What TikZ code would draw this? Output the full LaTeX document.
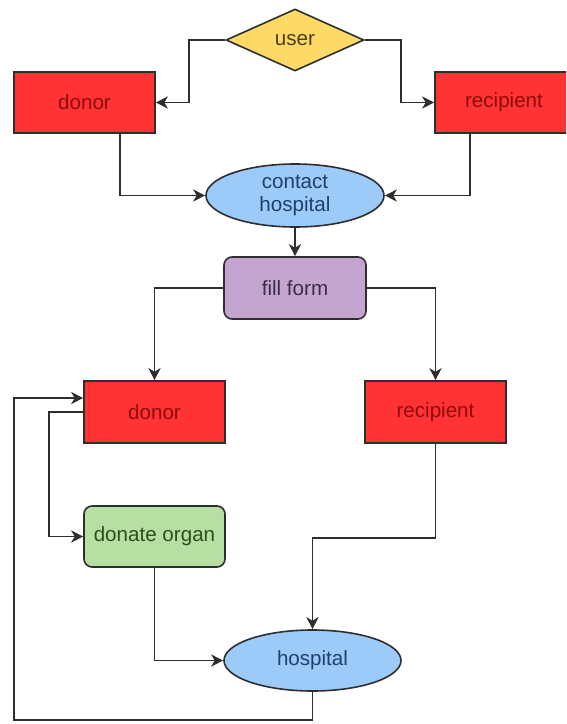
\documentclass[tikz,border=0pt]{standalone}
\usepackage{fontspec}
\setmainfont{Liberation Sans}
\usetikzlibrary{shapes.geometric,arrows.meta}

\definecolor{boxred}{HTML}{FF3333}
\definecolor{txtred}{HTML}{8E0C0C}
\definecolor{dmdyellow}{HTML}{FFD966}
\definecolor{txtbrown}{HTML}{4D3D10}
\definecolor{ovalblue}{HTML}{9CCBFA}
\definecolor{txtblue}{HTML}{1F3F6F}
\definecolor{formpurple}{HTML}{C3A5D0}
\definecolor{txtpurple}{HTML}{3C2C48}
\definecolor{organgreen}{HTML}{B7DEA3}
\definecolor{txtgreen}{HTML}{2B5020}
\definecolor{linegray}{HTML}{2E2E2E}

\tikzset{
  base/.style={draw=linegray, line width=1.6pt, inner sep=0pt, align=center,
    font=\fontsize{20.6}{23}\selectfont},
  actor/.style={base, rectangle, fill=boxred, text=txtred,
    minimum width=141pt, minimum height=61pt},
  choice/.style={base, diamond, fill=dmdyellow, text=txtbrown,
    minimum width=138pt, minimum height=62pt},
  place/.style={base, ellipse, fill=ovalblue, text=txtblue,
    minimum width=177pt, minimum height=62pt},
  task/.style={base, rectangle, rounded corners=8pt,
    minimum width=141pt, minimum height=61pt},
  arr/.style={draw=linegray, line width=1.7pt,
    -{Stealth[length=12pt,width=12pt,inset=3.5pt]}},
}

\begin{document}
\begin{tikzpicture}[x=1pt, y=-1pt]
  \useasboundingbox (0,0) rectangle (566,724);
  \clip (0,0) rectangle (566,724);

  % top part
  \node[choice] (user) at (295,40) {user};
  \node[actor] (donor1) at (84.5,102.5) {donor};
  \node[actor, minimum width=138pt] (recip1) at (504,102.5) {recipient};
  \node[place, minimum width=178pt, minimum height=63pt] (contact) at (295,195.5) {contact\\hospital};
  \node[task, fill=formpurple, text=txtpurple, minimum width=142pt, minimum height=62pt] (form) at (295,288) {fill form};

  % lower part
  \node[actor, minimum height=62pt] (donor2) at (154.5,412) {donor};
  \node[actor, minimum height=62pt] (recip2) at (435.5,412) {recipient};
  \node[task, fill=organgreen, text=txtgreen] (organ) at (154.5,536.5) {donate organ};
  \node[place, minimum height=61pt] (hosp) at (312.5,660.5) {hospital};
  \coordinate (corner) at (14,720);

  \draw[arr] (user.west) -- ++(-36,0) |- (donor1.east);
  \draw[arr] (user.east) -- ++(36,0) |- (recip1.west);
  \draw[arr] ([xshift=35.5pt]donor1.south) |- (contact.west);
  \draw[arr] ([xshift=-34pt]recip1.south) |- (contact.east);
  \draw[arr] (contact.south) -- (form.north);
  \draw[arr] (form.west) -| (donor2.north);
  \draw[arr] (form.east) -| (recip2.north);
  \draw[arr] (donor2.west) -- ++(-34,0) |- (organ.west);
  \draw[arr] (organ.south) |- (hosp.west);
  \draw[arr] (recip2.south) -- ++(0,94) -| (hosp.north);
  \draw[arr] (hosp.south) |- (corner) |- ([yshift=14pt]donor2.west);
\end{tikzpicture}
\end{document}
